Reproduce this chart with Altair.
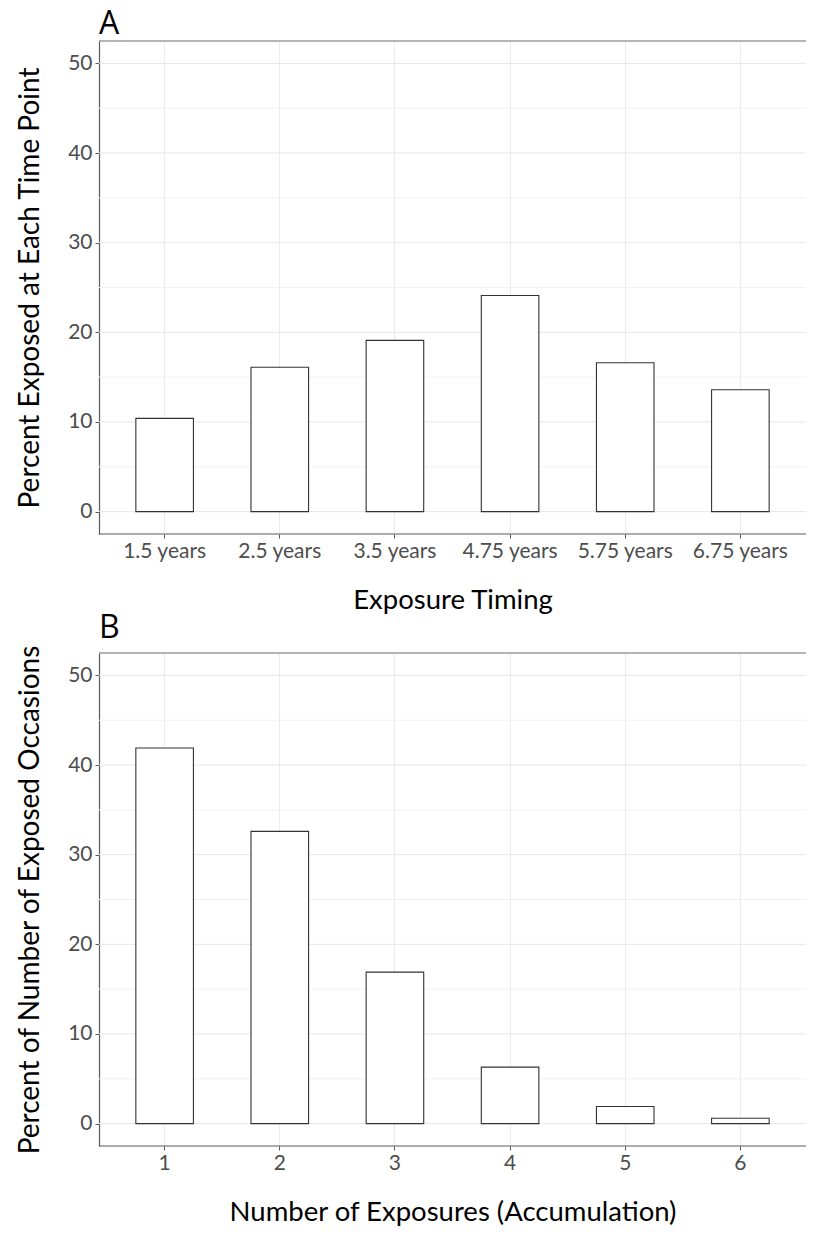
import altair as alt
import pandas as pd

# ---- data ----
timing_labels = ["1.5 years", "2.5 years", "3.5 years", "4.75 years", "5.75 years", "6.75 years"]
timing_values = [10.4, 16.1, 19.1, 24.1, 16.6, 13.6]

accum_labels = ["1", "2", "3", "4", "5", "6"]
accum_values = [41.9, 32.6, 16.9, 6.3, 1.9, 0.6]

y_major = [0, 10, 20, 30, 40, 50]
y_minor = [5, 15, 25, 35, 45]
y_domain = [-2.5, 52.5]

FONT = "Lato"
W = 707
H = 493
TICK_GRAY = "#4d4d4d"
LINE_GRAY = "#5a5a5a"
LABEL_SIZE = 21
XTITLE_SIZE = 27.5
YTITLE_SIZE = 28


def yscale():
    return alt.Scale(domain=y_domain, nice=False, zero=False)


def yaxis():
    return alt.Axis(
        values=y_major,
        labelFont=FONT,
        labelFontSize=LABEL_SIZE,
        labelColor=TICK_GRAY,
        labelPadding=3,
        tickSize=4,
        tickColor=LINE_GRAY,
        domainColor=LINE_GRAY,
        domainWidth=1.2,
        grid=False,
        titleFont=FONT,
        titleFontSize=YTITLE_SIZE,
        titleFontWeight="normal",
        titleColor="black",
        titlePadding=23,
    )


def panel(labels, values, letter, xtitle, ytitle):
    df = pd.DataFrame({"cat": labels, "val": values})
    minor = alt.Chart(pd.DataFrame({"v": y_minor})).mark_rule(
        color="#f1f1f1", strokeWidth=1
    ).encode(y=alt.Y("v:Q", scale=yscale(), axis=yaxis(), title=ytitle),
             x=alt.value(0), x2=alt.value(W))
    major = alt.Chart(pd.DataFrame({"v": y_major})).mark_rule(
        color="#e6e6e6", strokeWidth=1
    ).encode(y=alt.Y("v:Q", scale=yscale(), axis=yaxis(), title=ytitle),
             x=alt.value(0), x2=alt.value(W))
    bars = alt.Chart(df).mark_bar(
        fill="white", stroke="#333333", strokeWidth=1.1
    ).encode(
        x=alt.X(
            "cat:N",
            sort=labels,
            title=xtitle,
            scale=alt.Scale(paddingInner=0.5, paddingOuter=0.32),
            axis=alt.Axis(
                labelAngle=0,
                labelFont=FONT,
                labelFontSize=LABEL_SIZE,
                labelColor=TICK_GRAY,
                labelPadding=2,
                tickSize=4,
                tickColor=LINE_GRAY,
                domain=False,
                grid=True,
                gridColor="#ebebeb",
                titleFont=FONT,
                titleFontSize=XTITLE_SIZE,
                titleFontWeight="normal",
                titleColor="black",
                titlePadding=25,
            ),
        ),
        y=alt.Y("val:Q", title=ytitle, scale=yscale(), axis=yaxis()),
        y2=alt.datum(0),
    )
    frame = pd.DataFrame({"k": [0]})
    top = alt.Chart(frame).mark_rule(color="#6a6a6a", strokeWidth=1.2).encode(
        y=alt.value(0), x=alt.value(0), x2=alt.value(W))
    bottom = alt.Chart(frame).mark_rule(color=LINE_GRAY, strokeWidth=1.2).encode(
        y=alt.value(H), x=alt.value(0), x2=alt.value(W))
    return alt.layer(minor, major, bars, top, bottom).properties(
        width=W,
        height=H,
        title=alt.TitleParams(
            letter, anchor="start", frame="group", font="Open Sans",
            fontSize=32, fontWeight="normal", color="black", offset=-1,
        ),
    )


pa = panel(timing_labels, timing_values, "A", "Exposure Timing",
           "Percent Exposed at Each Time Point")
pb = panel(accum_labels, accum_values, "B", "Number of Exposures (Accumulation)",
           "Percent of Number of Exposed Occasions")

chart = alt.vconcat(pa, pb, spacing=119, bounds="flush").properties(
    padding={"left": 8, "right": 0, "top": 0, "bottom": 0}
).configure_view(stroke=None)

chart.save("out.html", embed_options={"renderer": "svg", "actions": False})
